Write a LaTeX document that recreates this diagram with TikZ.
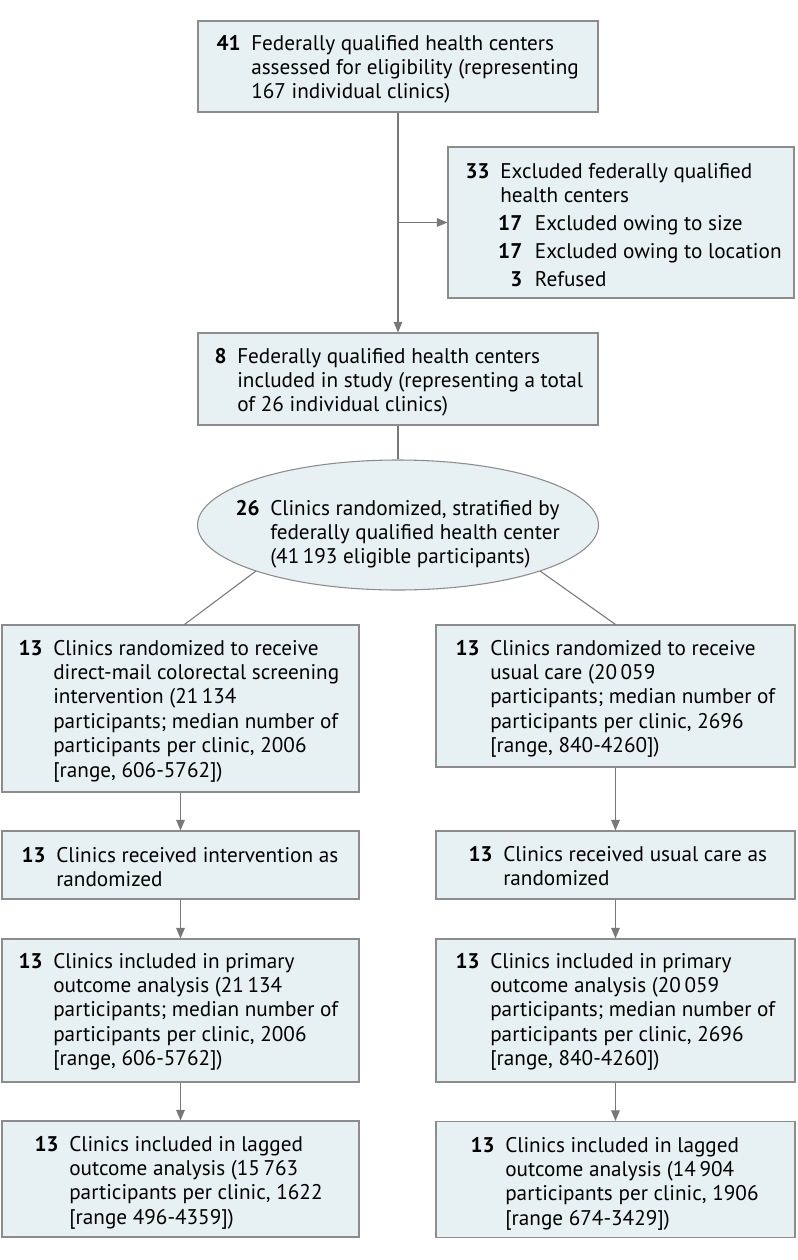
\documentclass[tikz,border=0pt]{standalone}
\usepackage{fontspec}
\setmainfont{PT Sans}
\usetikzlibrary{shapes.geometric,arrows.meta}
\definecolor{boxfill}{RGB}{231,240,242}
\definecolor{boxline}{RGB}{140,140,140}
\definecolor{connc}{RGB}{120,120,120}
\newcommand{\nm}[1]{\llap{\textbf{#1}\hspace{8pt}}}
\newcommand{\subnum}[1]{\makebox[16.5pt][r]{\textbf{#1}}\hspace{9.5pt}}
\begin{document}
\begin{tikzpicture}[x=0.75pt,y=-0.75pt,
  box/.style={draw=boxline, fill=boxfill, line width=0.8pt, inner sep=0pt},
  txt/.style={anchor=base west, inner sep=0pt, font=\fontsize{15.9pt}{18.3pt}\selectfont},
  conn/.style={draw=connc, line width=0.8pt},
  arr/.style={conn, -{Triangle[length=8pt,width=6.5pt]}}]
\useasboundingbox (0,0) rectangle (798,1260);
% boxes
\node[box, minimum width=300pt, minimum height=68.25pt] (b1) at (398,66.5) {};
\node[box, minimum width=259.5pt, minimum height=113.25pt] (b2) at (621,222.5) {};
\node[box, minimum width=300pt, minimum height=69pt] (b3) at (398,379) {};
\node[box, ellipse, minimum width=300.75pt, minimum height=97.5pt] (ell) at (398,525) {};
\node[box, minimum width=267.75pt, minimum height=125.25pt] (L1) at (180.5,708.5) {};
\node[box, minimum width=267.75pt, minimum height=51pt] (L2) at (180.5,865) {};
\node[box, minimum width=267.75pt, minimum height=107.25pt] (L3) at (180.5,1010.5) {};
\node[box, minimum width=267.75pt, minimum height=87pt] (L4) at (180.5,1179) {};
\node[box, minimum width=269.25pt, minimum height=106.5pt] (R1) at (615.5,696) {};
\node[box, minimum width=269.25pt, minimum height=51pt] (R2) at (615.5,865) {};
\node[box, minimum width=269.25pt, minimum height=107.25pt] (R3) at (615.5,1010.5) {};
\node[box, minimum width=269.25pt, minimum height=87pt] (R4) at (615.5,1179.5) {};
% texts
\node[txt] (t1) at (251,50) {\nm{41}\begin{tabular}[t]{@{}l@{}}Federally qualified health centers\\assessed for eligibility (representing\\167 individual clinics)\end{tabular}};
\node[txt] (t2) at (500,178) {\nm{33}\begin{tabular}[t]{@{}l@{}}Excluded federally qualified\\health centers\\[2.6pt]\subnum{17}Excluded owing to size\\[2.6pt]\subnum{17}Excluded owing to location\\[2.6pt]\subnum{3}Refused\end{tabular}};
\node[txt] (t3) at (237,363) {\nm{8}\begin{tabular}[t]{@{}l@{}}Federally qualified health centers\\included in study (representing a total\\of 26 individual clinics)\end{tabular}};
\node[txt] (te) at (270,515) {\nm{26}\begin{tabular}[t]{@{}l@{}}Clinics randomized, stratified by\\federally qualified health center\\(41\,193 eligible participants)\end{tabular}};
\node[txt] (tL1) at (53,655) {\nm{13}\begin{tabular}[t]{@{}l@{}}Clinics randomized to receive\\direct-mail colorectal screening\\intervention (21\,134\\participants; median number of\\participants per clinic, 2006\\{[}range, 606-5762])\end{tabular}};
\node[txt] (tL2) at (56,862) {\nm{13}\begin{tabular}[t]{@{}l@{}}Clinics received intervention as\\randomized\end{tabular}};
\node[txt] (tL3) at (53,968) {\nm{13}\begin{tabular}[t]{@{}l@{}}Clinics included in primary\\outcome analysis (21\,134\\participants; median number of\\participants per clinic, 2006\\{[}range, 606-5762])\end{tabular}};
\node[txt] (tL4) at (69,1151) {\nm{13}\begin{tabular}[t]{@{}l@{}}Clinics included in lagged\\outcome analysis (15\,763\\participants per clinic, 1622\\{[}range 496-4359])\end{tabular}};
\node[txt] (tR1) at (490,655) {\nm{13}\begin{tabular}[t]{@{}l@{}}Clinics randomized to receive\\usual care (20\,059\\participants; median number of\\participants per clinic, 2696\\{[}range, 840-4260])\end{tabular}};
\node[txt] (tR2) at (503,861) {\nm{13}\begin{tabular}[t]{@{}l@{}}Clinics received usual care as\\randomized\end{tabular}};
\node[txt] (tR3) at (490,968) {\nm{13}\begin{tabular}[t]{@{}l@{}}Clinics included in primary\\outcome analysis (20\,059\\participants; median number of\\participants per clinic, 2696\\{[}range, 840-4260])\end{tabular}};
\node[txt] (tR4) at (505,1152) {\nm{13}\begin{tabular}[t]{@{}l@{}}Clinics included in lagged\\outcome analysis (14\,904\\participants per clinic, 1906\\{[}range 674-3429])\end{tabular}};
% connectors
\draw[arr] (b1.south) -- (b3.north);
\coordinate (br) at (b1.south |- b2.west);
\draw[arr] (br) -- (b2.west);
\draw[conn] (b3.south) -- (ell.north);
\draw[conn] (ell.198.6) -- ([xshift=3pt]L1.north);
\draw[conn] (ell.-18.6) -- (R1.north);
\draw[arr] (L1.south) -- (L2.north);
\draw[arr] (L2.south) -- (L3.north);
\draw[arr] (L3.south) -- (L4.north);
\draw[arr] (R1.south) -- (R2.north);
\draw[arr] (R2.south) -- (R3.north);
\draw[arr] (R3.south) -- (R4.north);
\end{tikzpicture}
\end{document}
